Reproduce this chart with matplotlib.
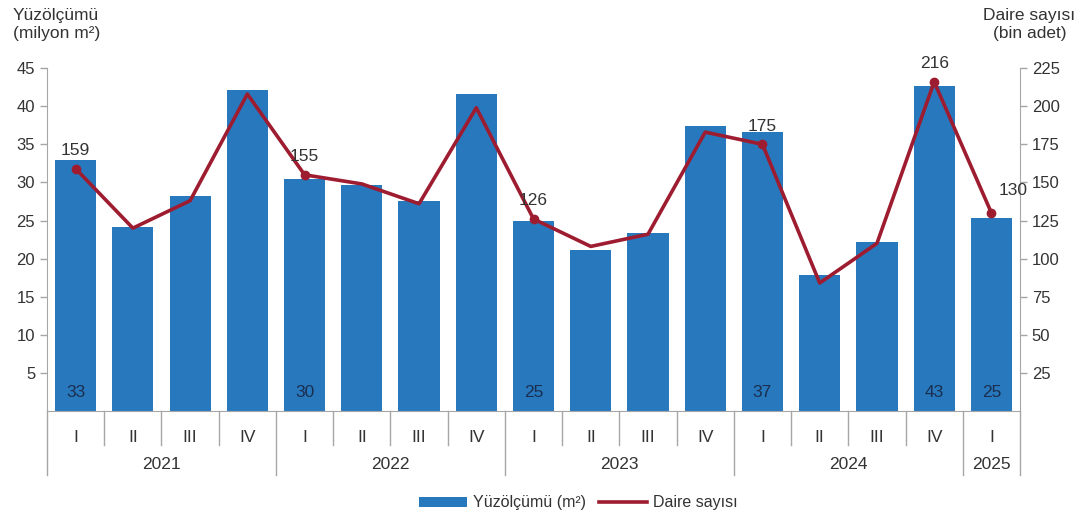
import matplotlib
matplotlib.use("Agg")
import matplotlib.pyplot as plt
import matplotlib.transforms as mtransforms

plt.rcParams['font.family'] = ['Liberation Sans', 'DejaVu Sans']

quarters = ["I", "II", "III", "IV"] * 4 + ["I"]
years = ["2021", "2022", "2023", "2024", "2025"]
year_sizes = [4, 4, 4, 4, 1]
area = [33.0, 24.1, 28.2, 42.1, 30.4, 29.6, 27.5, 41.6, 25.0, 21.1, 23.4, 37.4,
        36.6, 17.9, 22.2, 42.6, 25.3]
dwellings = [159, 120, 138, 208, 155, 149, 136, 199, 126, 108, 116, 183,
             175, 84, 110, 216, 130]
area_labels = {0: "33", 4: "30", 8: "25", 12: "37", 15: "43", 16: "25"}
dw_labels = {0: "159", 4: "155", 8: "126", 12: "175", 15: "216", 16: "130"}

bar_color = "#2878BE"
line_color = "#9E1C30"
grey = "#A6A6A6"
txt = "#333333"

fig = plt.figure(figsize=(10.81, 5.2), dpi=100)
ax = fig.add_axes([0.0435, 0.2096, 0.9001, 0.6594])
ax2 = ax.twinx()

x = list(range(len(area)))
bars = ax.bar(x, area, width=0.72, color=bar_color, zorder=2, label="Yüzölçümü (m²)")
ax.set_xlim(-0.5, len(area) - 0.5)
ax.set_ylim(0, 45)
ax.set_yticks([5, 10, 15, 20, 25, 30, 35, 40, 45])
ax2.set_ylim(0, 225)
ax2.set_yticks([25, 50, 75, 100, 125, 150, 175, 200, 225])

line, = ax2.plot(x, dwellings, color=line_color, lw=2.6, zorder=3, label="Daire sayısı")
mk = [i for i in dw_labels]
ax2.plot(mk, [dwellings[i] for i in mk], 'o', color=line_color, ms=6, zorder=4)

for i, s in area_labels.items():
    ax.text(i, 2.4, s, ha="center", va="center", fontsize=12.5, color="#1A2F4F", zorder=5)
for i, s in dw_labels.items():
    if i == 16:
        ax2.text(i + 0.12, dwellings[i] + 10, s, ha="left", va="bottom", fontsize=12.5, color=txt)
    else:
        ax2.text(i, dwellings[i] + 7, s, ha="center", va="bottom", fontsize=12.5, color=txt)

for a in (ax, ax2):
    for sp in ("top",):
        a.spines[sp].set_visible(False)
    a.spines["bottom"].set_color(grey)
    a.tick_params(axis="y", colors=grey, labelcolor=txt, labelsize=12, length=5, width=1)
ax.spines["left"].set_color(grey)
ax.spines["right"].set_visible(False)
ax2.spines["left"].set_visible(False)
ax2.spines["right"].set_color(grey)
ax2.spines["bottom"].set_visible(False)

ax.set_xticks([])
trans = mtransforms.blended_transform_factory(ax.transData, ax.transAxes)
for i, q in enumerate(quarters):
    ax.text(i, -0.076, q, transform=trans, ha="center", va="center", fontsize=12.5, color=txt)
pos = 0
bounds = [-0.5]
for s in year_sizes:
    pos += s
    bounds.append(pos - 0.5)
for k in range(len(area) + 1):
    b = k - 0.5
    y0 = -0.187 if b in bounds else -0.10
    ax.plot([b, b], [0, y0], transform=trans, color=grey, lw=1, clip_on=False)
start = 0
for y, s in zip(years, year_sizes):
    ax.text(start + (s - 1) / 2, -0.157, y, transform=trans, ha="center", va="center",
            fontsize=12.5, color=txt)
    start += s

fig.text(0.012, 0.952, "Yüzölçümü\n(milyon m²)", ha="left", va="center", fontsize=12.5,
         color=txt, linespacing=1.25)
fig.text(0.995, 0.952, "Daire sayısı\n(bin adet)", ha="right", va="center", fontsize=12.5,
         color=txt, linespacing=1.25, multialignment="center")

fig.legend([bars, line], ["Yüzölçümü (m²)", "Daire sayısı"], loc="center",
           bbox_to_anchor=(0.535, 0.033), ncol=2, frameon=False, fontsize=11.5,
           handlelength=3, handleheight=0.6, columnspacing=0.8, handletextpad=0.4,
           labelcolor=txt)

fig.savefig("out.png", dpi=100)
